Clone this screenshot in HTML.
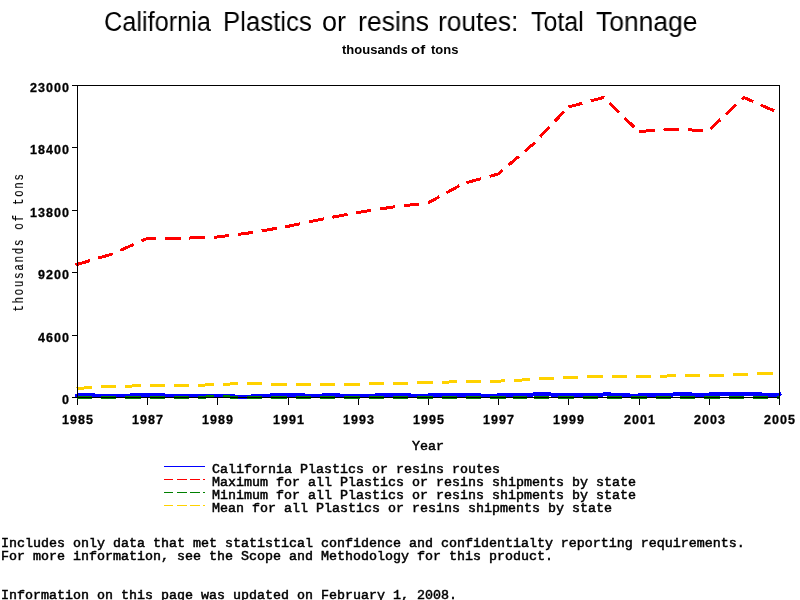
<!DOCTYPE html><html><head><meta charset="utf-8"><style>
html,body{margin:0;padding:0;background:#fff;width:800px;height:600px;overflow:hidden;position:relative}
.t{position:absolute;white-space:pre;line-height:1;color:#000;will-change:transform}
.m{font-family:'Liberation Mono', monospace;font-size:13.33px;-webkit-text-stroke:0.5px #000}
.d{font-family:'Liberation Sans', sans-serif;font-weight:bold;font-size:12.5px;letter-spacing:1.05px;-webkit-text-stroke:0.3px #000}
svg{position:absolute;left:0;top:0}
</style></head><body>
<div class="t" style="left:104.06px;top:9px;font-family:'Liberation Sans', sans-serif;font-size:27px;transform:scaleX(0.9375);transform-origin:0 0">California</div>
<div class="t" style="left:223.09px;top:9px;font-family:'Liberation Sans', sans-serif;font-size:27px;transform:scaleX(0.9551);transform-origin:0 0">Plastics</div>
<div class="t" style="left:322.00px;top:9px;font-family:'Liberation Sans', sans-serif;font-size:27px;transform:scaleX(1.0000);transform-origin:0 0">or</div>
<div class="t" style="left:358.03px;top:9px;font-family:'Liberation Sans', sans-serif;font-size:27px;transform:scaleX(0.9853);transform-origin:0 0">resins</div>
<div class="t" style="left:438.05px;top:9px;font-family:'Liberation Sans', sans-serif;font-size:27px;transform:scaleX(0.9740);transform-origin:0 0">routes:</div>
<div class="t" style="left:531.08px;top:9px;font-family:'Liberation Sans', sans-serif;font-size:27px;transform:scaleX(0.9245);transform-origin:0 0">Total</div>
<div class="t" style="left:596.02px;top:9px;font-family:'Liberation Sans', sans-serif;font-size:27px;transform:scaleX(0.9800);transform-origin:0 0">Tonnage</div>
<div class="t" style="left:342.00px;top:43px;font-family:'Liberation Sans', sans-serif;font-weight:bold;font-size:13px;transform:scaleX(1.000);transform-origin:0 0">thousands</div>
<div class="t" style="left:410.85px;top:43px;font-family:'Liberation Sans', sans-serif;font-weight:bold;font-size:13px;transform:scaleX(1.150);transform-origin:0 0">of</div>
<div class="t" style="left:431.00px;top:43px;font-family:'Liberation Sans', sans-serif;font-weight:bold;font-size:13px;transform:scaleX(1.000);transform-origin:0 0">tons</div>
<svg width="800" height="600" viewBox="0 0 800 600"><g shape-rendering="crispEdges" fill="#000"><rect x="77" y="397" width="1" height="8"/><rect x="147" y="397" width="1" height="8"/><rect x="217" y="397" width="1" height="8"/><rect x="288" y="397" width="1" height="8"/><rect x="358" y="397" width="1" height="8"/><rect x="428" y="397" width="1" height="8"/><rect x="498" y="397" width="1" height="8"/><rect x="568" y="397" width="1" height="8"/><rect x="639" y="397" width="1" height="8"/><rect x="709" y="397" width="1" height="8"/><rect x="779" y="397" width="1" height="8"/></g><path shape-rendering="crispEdges" fill="#0000ff" d="M75 394h3v4h-3zM78 393h17v4h-17zM95 394h35v4h-35zM130 393h35v4h-35zM165 394h70v4h-70zM235 395h16v4h-16zM251 394h19v4h-19zM270 393h35v4h-35zM305 394h17v4h-17zM322 393h18v4h-18zM340 394h35v4h-35zM375 393h36v4h-36zM411 394h17v4h-17zM428 393h53v4h-53zM481 394h16v4h-16zM497 393h36v4h-36zM533 392h18v4h-18zM551 393h52v4h-52zM603 392h8v4h-8zM611 393h19v4h-19zM630 394h8v4h-8zM638 393h35v4h-35zM673 392h19v4h-19zM692 393h17v4h-17zM709 392h53v4h-53zM762 393h18v4h-18zM780 392h1v4h-1zM781 394h1v1h-1z"/><path shape-rendering="crispEdges" d="M75.50 264.95L77.00 264.50L89.98 260.62M98.22 258.15L112.10 254.00L112.66 253.75M120.34 250.36L133.84 244.40M141.52 241.01L147.20 238.50L156.18 238.45M165.01 238.40L180.51 238.31M189.33 238.04L204.81 237.47M213.63 237.14L217.40 237.00L228.97 235.52M237.69 234.40L252.50 232.50L252.98 232.42M261.60 230.92L276.73 228.29M285.35 226.79L287.60 226.40L300.34 223.71M308.86 221.92L322.70 219.00L323.83 218.79M332.43 217.20L347.51 214.41M356.10 212.81L357.80 212.50L371.28 210.39M379.94 209.03L392.90 207.00L395.16 206.74M403.90 205.75L419.24 204.00M427.97 203.00L428.00 203.00L439.41 196.70M446.62 192.71L459.27 185.72M466.53 182.66L481.16 178.66M489.50 176.38L498.20 174.00L502.44 170.38M508.39 165.29L518.85 156.35M524.81 151.26L533.30 144.00L535.03 142.17M540.29 136.63L549.52 126.90M554.78 121.36L564.01 111.63M568.40 107.00L582.34 103.23M590.69 100.97L603.50 97.50L603.78 97.77M609.33 103.13L619.08 112.54M624.63 117.91L634.38 127.32M639.22 131.37L654.68 130.53M663.49 130.05L673.70 129.50L678.96 129.65M687.78 129.90L703.27 130.34M710.59 128.82L720.50 119.50M726.14 114.20L736.04 104.89M741.69 99.58L743.90 97.50L753.08 101.55M760.76 104.95L774.26 110.90" fill="none" stroke="#ff0000" stroke-width="3" stroke-linejoin="bevel"/><path shape-rendering="crispEdges" fill="#008000" d="M77 396h15v3h-15zM101 396h15v3h-15zM125 396h16v3h-16zM150 396h15v3h-15zM174 396h15v3h-15zM198 396h8v3h-8zM206 395h8v3h-8zM223 395h7v3h-7zM230 396h8v3h-8zM247 396h15v3h-15zM271 396h16v3h-16zM296 396h15v3h-15zM320 396h15v3h-15zM344 396h16v3h-16zM369 396h15v3h-15zM393 396h15v3h-15zM417 396h16v3h-16zM442 396h15v3h-15zM466 396h15v3h-15zM490 396h16v3h-16zM513 396h14v3h-14zM534 396h15v3h-15zM558 396h16v3h-16zM583 396h15v3h-15zM607 396h15v3h-15zM631 396h16v3h-16zM656 396h15v3h-15zM680 396h15v3h-15zM704 396h16v3h-16zM729 396h15v3h-15zM753 396h15v3h-15zM777 396h2v3h-2z"/><path shape-rendering="crispEdges" fill="#ffd200" d="M77 387h7v3h-7zM84 386h8v3h-8zM101 385h15v3h-15zM125 385h7v3h-7zM132 384h9v3h-9zM150 384h15v3h-15zM174 384h15v3h-15zM198 384h7v3h-7zM205 383h9v3h-9zM223 383h7v3h-7zM230 382h8v3h-8zM247 382h15v3h-15zM271 383h16v3h-16zM296 383h15v3h-15zM320 383h15v3h-15zM344 383h16v3h-16zM369 382h15v3h-15zM393 382h15v3h-15zM417 381h16v3h-16zM442 381h7v3h-7zM449 380h8v3h-8zM466 380h15v3h-15zM490 380h11v3h-11zM501 379h4v3h-4zM514 379h8v3h-8zM522 378h8v3h-8zM539 377h15v3h-15zM563 376h15v3h-15zM587 375h16v3h-16zM612 375h15v3h-15zM636 375h15v3h-15zM660 375h7v3h-7zM667 374h9v3h-9zM685 374h15v3h-15zM709 374h15v3h-15zM733 373h15v3h-15zM757 372h16v3h-16zM76 387h1v1h-1z"/><g shape-rendering="crispEdges" fill="#000"><rect x="77" y="85" width="703" height="1"/><rect x="77" y="397" width="703" height="1"/><rect x="77" y="85" width="1" height="313"/><rect x="779" y="85" width="1" height="313"/><rect x="72" y="85" width="5" height="1"/><rect x="72" y="147" width="5" height="1"/><rect x="72" y="210" width="5" height="1"/><rect x="72" y="272" width="5" height="1"/><rect x="72" y="335" width="5" height="1"/><rect x="72" y="397" width="5" height="1"/></g><g shape-rendering="crispEdges"><rect x="164" y="466" width="41" height="1" fill="#0000ff"/><rect x="164" y="479" width="9" height="1" fill="#ff0000"/><rect x="177" y="479" width="10" height="1" fill="#ff0000"/><rect x="190" y="479" width="10" height="1" fill="#ff0000"/><rect x="203" y="479" width="2" height="1" fill="#ff0000"/><rect x="164" y="492" width="9" height="1" fill="#008000"/><rect x="177" y="492" width="10" height="1" fill="#008000"/><rect x="190" y="492" width="10" height="1" fill="#008000"/><rect x="203" y="492" width="2" height="1" fill="#008000"/><rect x="164" y="505" width="9" height="1" fill="#ffd200"/><rect x="177" y="505" width="10" height="1" fill="#ffd200"/><rect x="190" y="505" width="10" height="1" fill="#ffd200"/><rect x="203" y="505" width="2" height="1" fill="#ffd200"/></g></svg>
<div class="t d" style="right:730px;top:82px">23000</div>
<div class="t d" style="right:730px;top:144px">18400</div>
<div class="t d" style="right:730px;top:207px">13800</div>
<div class="t d" style="right:730px;top:269px">9200</div>
<div class="t d" style="right:730px;top:332px">4600</div>
<div class="t d" style="right:730px;top:394px">0</div>
<div class="t d" style="left:48.0px;top:414px;width:60px;text-align:center">1985</div>
<div class="t d" style="left:118.2px;top:414px;width:60px;text-align:center">1987</div>
<div class="t d" style="left:188.4px;top:414px;width:60px;text-align:center">1989</div>
<div class="t d" style="left:258.6px;top:414px;width:60px;text-align:center">1991</div>
<div class="t d" style="left:328.8px;top:414px;width:60px;text-align:center">1993</div>
<div class="t d" style="left:399.0px;top:414px;width:60px;text-align:center">1995</div>
<div class="t d" style="left:469.2px;top:414px;width:60px;text-align:center">1997</div>
<div class="t d" style="left:539.4px;top:414px;width:60px;text-align:center">1999</div>
<div class="t d" style="left:609.6px;top:414px;width:60px;text-align:center">2001</div>
<div class="t d" style="left:679.8px;top:414px;width:60px;text-align:center">2003</div>
<div class="t d" style="left:750.0px;top:414px;width:60px;text-align:center">2005</div>
<div class="t m" style="left:398px;top:440px;width:60px;text-align:center">Year</div>
<div class="t" style="left:19px;top:242px;width:0;height:0"><div style="position:absolute;left:-150px;top:-8px;width:300px;height:16px;line-height:16px;text-align:center;transform:rotate(-90deg) scale(0.7,1);letter-spacing:2.41px;-webkit-text-stroke:0.15px #000;font-family:'Liberation Mono', monospace;font-size:15.5px">thousands of tons</div></div>
<div class="t m" style="left:212px;top:463px">California Plastics or resins routes</div>
<div class="t m" style="left:212px;top:476px">Maximum for all Plastics or resins shipments by state</div>
<div class="t m" style="left:212px;top:489px">Minimum for all Plastics or resins shipments by state</div>
<div class="t m" style="left:212px;top:502px">Mean for all Plastics or resins shipments by state</div>
<div class="t m" style="left:1px;top:537px">Includes only data that met statistical confidence and confidentialty reporting requirements.</div>
<div class="t m" style="left:1px;top:550px">For more information, see the Scope and Methodology for this product.</div>
<div class="t m" style="left:1px;top:589px">Information on this page was updated on February 1, 2008.</div>
</body></html>
